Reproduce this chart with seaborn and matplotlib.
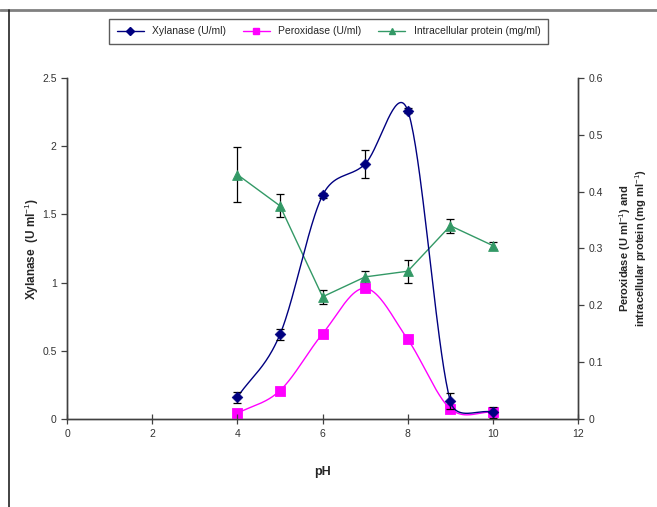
import numpy as np
import pandas as pd
import matplotlib
matplotlib.use("Agg")
import matplotlib.pyplot as plt
import seaborn as sns
from matplotlib.lines import Line2D

sns.set_style("white")
plt.rcParams['font.family'] = ['Liberation Sans', 'DejaVu Sans']
plt.rcParams['mathtext.fontset'] = 'custom'
plt.rcParams['mathtext.rm'] = 'Liberation Sans'
plt.rcParams['mathtext.bf'] = 'Liberation Sans:bold'

ph = [4, 5, 6, 7, 8, 9, 10]
xylanase = [0.16, 0.62, 1.64, 1.87, 2.26, 0.13, 0.05]
xylanase_err = [0.04, 0.04, 0.02, 0.10, 0.02, 0.06, 0.04]
peroxidase = [0.01, 0.05, 0.15, 0.23, 0.14, 0.018, 0.012]
protein = [0.43, 0.375, 0.215, 0.25, 0.26, 0.34, 0.305]
protein_err = [0.048, 0.02, 0.012, 0.01, 0.02, 0.012, 0.006]

c_xyl = '#000080'
c_per = '#FF00FF'
c_pro = '#339966'

X_PX = 511 / 12.0   # pixels per x unit (plot area)


def smooth(x, y, y_px, n=40):
    # Excel-like smoothed line: Bezier with tangent d02/6, capped at half segment length
    x = np.asarray(x, float) * X_PX
    y = np.asarray(y, float) * y_px
    P = np.column_stack([x, y])
    P = np.vstack([2 * P[0] - P[1], P, 2 * P[-1] - P[-2]])
    t = np.linspace(0, 1, n)[:, None]
    out = []
    for i in range(1, len(P) - 2):
        p0, p1, p2, p3 = P[i - 1], P[i], P[i + 1], P[i + 2]
        d12 = np.linalg.norm(p2 - p1)
        v1 = (p2 - p0) / 6.0
        v2 = (p3 - p1) / 6.0
        if np.linalg.norm(v1) > d12 / 2:
            v1 = v1 * (d12 / 2) / np.linalg.norm(v1)
        if np.linalg.norm(v2) > d12 / 2:
            v2 = v2 * (d12 / 2) / np.linalg.norm(v2)
        c1 = p1 + v1
        c2 = p2 - v2
        b = (1 - t) ** 3 * p1 + 3 * (1 - t) ** 2 * t * c1 + 3 * (1 - t) * t ** 2 * c2 + t ** 3 * p2
        out.append(b)
    B = np.vstack(out)
    return B[:, 0] / X_PX, B[:, 1] / y_px


fig = plt.figure(figsize=(6.57, 5.07), dpi=100)
ax = fig.add_axes([0.102, 0.1736, 0.778, 0.6726])
ax2 = ax.twinx()

# Xylanase on left axis
sx, sy = smooth(ph, xylanase, 341 / 2.5)
sns.lineplot(x=sx, y=sy, ax=ax, color=c_xyl, lw=1.0, sort=False, estimator=None)
ax.errorbar(ph, xylanase, yerr=xylanase_err, fmt='none', ecolor='black', elinewidth=0.9, capsize=3, capthick=0.9)
sns.scatterplot(x=ph, y=xylanase, ax=ax, color=c_xyl, marker='D', s=30, edgecolor=c_xyl, zorder=5)

# Peroxidase and protein on right axis
px_, py_ = smooth(ph, peroxidase, 341 / 0.6)
sns.lineplot(x=px_, y=py_, ax=ax2, color=c_per, lw=1.0, sort=False, estimator=None)
sns.scatterplot(x=ph, y=peroxidase, ax=ax2, color=c_per, marker='s', s=55, edgecolor=c_per, zorder=5)

ax2.errorbar(ph, protein, yerr=protein_err, fmt='none', ecolor='black', elinewidth=0.9, capsize=3, capthick=0.9)
sns.lineplot(x=ph, y=protein, ax=ax2, color=c_pro, lw=1.0, estimator=None)
sns.scatterplot(x=ph, y=protein, ax=ax2, color=c_pro, marker='^', s=50, edgecolor=c_pro, zorder=5)

ax.set_xlim(0, 12)
ax.set_ylim(0, 2.5)
ax2.set_ylim(0, 0.6)
ax.set_xticks([0, 2, 4, 6, 8, 10, 12])
ax.set_xticklabels(['0', '2', '4', '6', '8', '10', '12'])
ax.set_yticks([0, 0.5, 1, 1.5, 2, 2.5])
ax.set_yticklabels(['0', '0.5', '1', '1.5', '2', '2.5'])
ax2.set_yticks([0, 0.1, 0.2, 0.3, 0.4, 0.5, 0.6])
ax2.set_yticklabels(['0', '0.1', '0.2', '0.3', '0.4', '0.5', '0.6'])

for a in (ax, ax2):
    for s in a.spines.values():
        s.set_color('#404040'); s.set_linewidth(1.0)
    a.spines['top'].set_visible(False)
ax.tick_params(axis='both', which='both', direction='out', length=4, width=0.9,
               color='#404040', labelsize=7.5, labelcolor='#333333', left=True, bottom=True)
ax.tick_params(axis='x', direction='inout', length=7, pad=4)
ax2.tick_params(axis='y', direction='out', length=4, width=0.9, color='#404040',
                labelsize=7.5, labelcolor='#333333', right=True)

ax.set_xlabel('pH', fontsize=9, fontweight='bold', labelpad=19)
ax.set_ylabel(r'Xylanase  (U ml$^{-1}$)', fontsize=8.5, fontweight='bold', labelpad=1)
ax2.set_ylabel('Peroxidase (U ml$^{-1}$) and\nintracellular protein (mg ml$^{-1}$)',
               fontsize=8, fontweight='bold', labelpad=10, rotation=90, linespacing=1.0)
ax.set_zorder(ax2.get_zorder() + 1)
ax.patch.set_visible(False)

handles = [
    Line2D([], [], color=c_xyl, marker='D', markersize=4, lw=1.0, label='Xylanase (U/ml)'),
    Line2D([], [], color=c_per, marker='s', markersize=5, lw=1.0, label='Peroxidase (U/ml)'),
    Line2D([], [], color=c_pro, marker='^', markersize=5, lw=1.0, label='Intracellular protein (mg/ml)'),
]
leg = fig.legend(handles=handles, loc='center', bbox_to_anchor=(0.5, 0.938), ncol=3,
                 fontsize=7.5, frameon=True, fancybox=False, edgecolor='#333333',
                 handlelength=2.6, columnspacing=1.6, borderpad=0.75)
leg.get_frame().set_linewidth(1.0)

# figure border lines
fig.add_artist(Line2D([0.0, 1.0], [1 - 10 / 507, 1 - 10 / 507], transform=fig.transFigure, color='#808080', lw=2))
fig.add_artist(Line2D([9 / 657, 9 / 657], [0, 1 - 10 / 507], transform=fig.transFigure, color='#222222', lw=1.2))

fig.savefig('out.png', dpi=100)
